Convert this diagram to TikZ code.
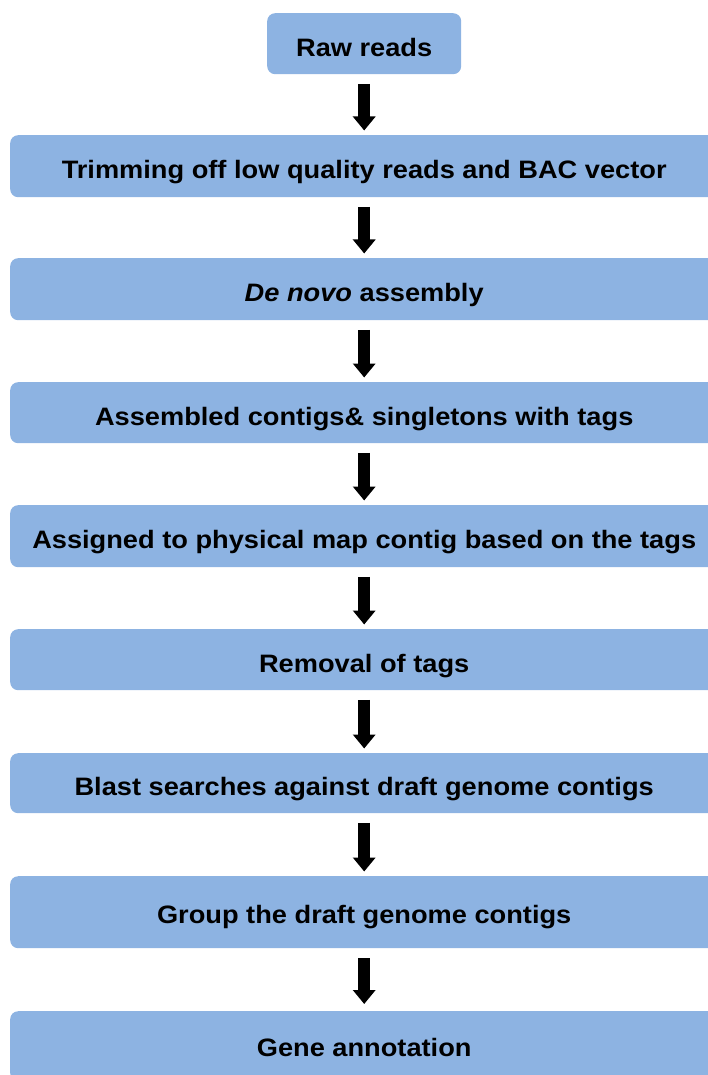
\documentclass[tikz,border=0pt]{standalone}
\usepackage{fontspec}
\setmainfont{Liberation Sans}[FakeStretch=1.08]
\usetikzlibrary{arrows.meta}
\definecolor{boxblue}{RGB}{141,179,226}
\begin{document}
\begin{tikzpicture}[x=1pt,y=-1pt,
  flowbox/.style={fill=boxblue, rounded corners=8pt, inner sep=0pt,
    font=\fontsize{25.2}{30}\selectfont\bfseries, text height=25pt, text depth=0pt,
    anchor=north west, minimum width=708pt},
  bigarrow/.style={line width=12pt, -{Triangle[width=22pt,length=14pt]}}]
\useasboundingbox (0,0) rectangle (708,1075);
\clip (0,0) rectangle (708,1075);
\node[flowbox, minimum width=194pt, minimum height=61pt] (b1) at (267,13) {Raw reads};
\node[flowbox, minimum height=62pt] (b2) at (10,135) {Trimming off low quality reads and BAC vector};
\node[flowbox, minimum height=62pt] (b3) at (10,258) {\textit{De novo} assembly};
\node[flowbox, minimum height=61pt] (b4) at (10,382) {Assembled contigs\& singletons with tags};
\node[flowbox, minimum height=62pt] (b5) at (10,505) {Assigned to physical map contig based on the tags};
\node[flowbox, minimum height=61pt] (b6) at (10,629) {Removal of tags};
\node[flowbox, minimum height=60pt] (b7) at (10,753) {Blast searches against draft genome contigs};
\node[flowbox, minimum height=72pt, text height=22pt] (b8) at (10,876) {Group the draft genome contigs};
\node[flowbox, minimum height=70pt, text height=20pt] (b9) at (10,1011) {Gene annotation};
\foreach \a/\b in {b1/b2,b2/b3,b3/b4,b4/b5,b5/b6,b6/b7,b7/b8}
  \draw[bigarrow] ([yshift=-9.5pt]\a.south) -- ([yshift=4.5pt]\b.north);
\draw[bigarrow] ([yshift=-10pt]b8.south) -- ([yshift=7pt]b9.north);
\end{tikzpicture}
\end{document}
